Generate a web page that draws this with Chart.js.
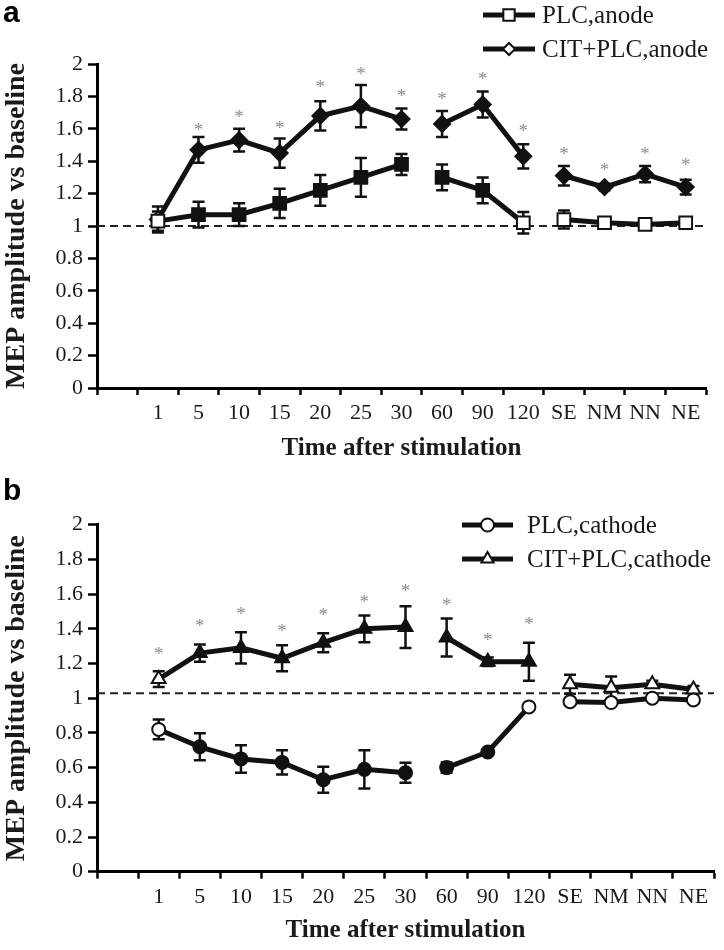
<!DOCTYPE html>
<html><head><meta charset="utf-8">
<script src="https://cdn.jsdelivr.net/npm/chart.js@4.4.1/dist/chart.umd.min.js"></script>
<style>
html,body{margin:0;padding:0;background:#fff;}
#wrap{position:relative;width:724px;height:950px;overflow:hidden;}
canvas{position:absolute;left:0;}
</style></head><body>
<div id="wrap">
<canvas id="ca" width="724" height="468" style="top:0"></canvas>
<canvas id="cb" width="724" height="480" style="top:470px"></canvas>
</div>
<script>
// ---------- DATA ----------
const categories = ['', '1', '5', '10', '15', '20', '25', '30', '60', '90', '120', 'SE', 'NM', 'NN', 'NE'];
const yTickValues = [0, 0.2, 0.4, 0.6, 0.8, 1, 1.2, 1.4, 1.6, 1.8, 2];

// Panel a (anode)
const plcAnode      = [null, 1.03, 1.07, 1.07, 1.14, 1.22, 1.30, 1.38, 1.30, 1.22, 1.02, 1.04, 1.02, 1.01, 1.02];
const plcAnodeErr   = [null, 0.06, 0.08, 0.07, 0.09, 0.095, 0.12, 0.065, 0.08, 0.08, 0.067, 0.055, 0.015, 0.02, 0.01];
const citAnode      = [null, 1.04, 1.47, 1.53, 1.45, 1.68, 1.74, 1.66, 1.63, 1.75, 1.43, 1.31, 1.24, 1.32, 1.24];
const citAnodeErr   = [null, 0.08, 0.08, 0.07, 0.09, 0.09, 0.13, 0.065, 0.08, 0.08, 0.075, 0.06, 0.02, 0.05, 0.045];
const starsAnode    = [null, null, 1.62, 1.70, 1.63, 1.88, 1.96, 1.83, 1.81, 1.93, 1.61, 1.47, 1.37, 1.47, 1.40];
const baselineAnode = 1.0;

// Panel b (cathode)
const plcCathode      = [null, 0.82, 0.72, 0.65, 0.63, 0.53, 0.59, 0.57, 0.60, 0.69, 0.95, 0.98, 0.975, 1.00, 0.99];
const plcCathodeErr   = [null, 0.057, 0.078, 0.079, 0.07, 0.075, 0.11, 0.058, 0.03, 0.015, 0, 0.01, 0.01, 0.01, 0.01];
const citCathode      = [null, 1.11, 1.26, 1.29, 1.23, 1.32, 1.40, 1.41, 1.35, 1.21, 1.21, 1.08, 1.06, 1.08, 1.05];
const citCathodeErr   = [null, 0.045, 0.05, 0.09, 0.075, 0.055, 0.077, 0.12, 0.11, 0.025, 0.11, 0.055, 0.065, 0.02, 0.02];
const starsCathode    = [null, 1.28, 1.44, 1.51, 1.41, 1.50, 1.58, 1.64, 1.56, 1.36, 1.45, null, null, null, null];
const baselineCathode = 1.028;

// indices after which the line is interrupted (30|60 and 120|SE)
const lineBreaks = [7, 10];

// ---------- STYLE ----------
const SERIF = '"Liberation Serif", "Times New Roman", serif';
const SANS = '"Liberation Sans", Arial, sans-serif';
const INK = '#111';
const TXT = '#1a1a1a';

function fills(n, openIdx) {
  const a = [];
  for (let i = 0; i < n; i++) a.push(openIdx.includes(i) ? '#fff' : INK);
  return a;
}

function makeDataset(label, data, err, style, radius, openIdx) {
  return {
    label, data, err,
    borderColor: INK, borderWidth: 5, tension: 0,
    pointStyle: style, pointRadius: radius,
    pointBorderColor: INK, pointBorderWidth: 2,
    pointBackgroundColor: fills(data.length, openIdx),
    segment: { borderColor: c => lineBreaks.includes(c.p0DataIndex) ? 'rgba(0,0,0,0)' : INK }
  };
}

const panelPlugin = {
  id: 'panelExtras',
  beforeDatasetsDraw(chart) {
    const cfg = chart.options.plugins.panelExtras;
    const ctx = chart.ctx, y = chart.scales.y, area = chart.chartArea;
    // baseline dashed line
    ctx.save();
    ctx.strokeStyle = '#222'; ctx.lineWidth = 2; ctx.setLineDash([8, 5]);
    const by = y.getPixelForValue(cfg.baseline);
    ctx.beginPath(); ctx.moveTo(area.left, by); ctx.lineTo(area.right, by); ctx.stroke();
    ctx.restore();
    // error bars
    ctx.save();
    ctx.strokeStyle = INK; ctx.lineWidth = 2.5;
    chart.data.datasets.forEach((ds, i) => {
      const meta = chart.getDatasetMeta(i);
      ds.data.forEach((v, j) => {
        const e = ds.err[j];
        if (v == null || !e) return;
        const x = meta.data[j].x;
        const t = y.getPixelForValue(v + e), b = y.getPixelForValue(v - e);
        ctx.beginPath();
        ctx.moveTo(x, t); ctx.lineTo(x, b);
        ctx.moveTo(x - 6, t); ctx.lineTo(x + 6, t);
        ctx.moveTo(x - 6, b); ctx.lineTo(x + 6, b);
        ctx.stroke();
      });
    });
    ctx.restore();
  },
  afterDraw(chart) {
    const cfg = chart.options.plugins.panelExtras;
    const ctx = chart.ctx, y = chart.scales.y, x = chart.scales.x;
    // significance asterisks
    ctx.save();
    ctx.fillStyle = '#8c8c8c'; ctx.font = '19px ' + SERIF;
    ctx.textAlign = 'center'; ctx.textBaseline = 'middle';
    cfg.stars.forEach((v, j) => {
      if (v == null) return;
      ctx.fillText('*', x.getPixelForValue(j), y.getPixelForValue(v) + 5);
    });
    ctx.restore();
    // legend
    ctx.save();
    const L = cfg.legend;
    chart.data.datasets.forEach((ds, i) => {
      const ly = L.ys[i];
      ctx.strokeStyle = INK; ctx.lineWidth = 5;
      ctx.beginPath(); ctx.moveTo(L.x1, ly); ctx.lineTo(L.x2, ly); ctx.stroke();
      ctx.fillStyle = '#fff'; ctx.strokeStyle = INK; ctx.lineWidth = 2;
      Chart.helpers.drawPoint(ctx, { pointStyle: ds.pointStyle, radius: L.radii[i], borderWidth: 2, rotation: 0 }, (L.x1 + L.x2) / 2, ly);
      ctx.fillStyle = TXT; ctx.font = '25px ' + SERIF;
      ctx.textAlign = 'left'; ctx.textBaseline = 'middle';
      ctx.fillText(ds.label, L.tx, ly + 1);
    });
    // panel letter
    ctx.fillStyle = '#000'; ctx.font = 'bold 30px ' + SANS;
    ctx.textAlign = 'left'; ctx.textBaseline = 'alphabetic';
    ctx.fillText(cfg.letter, 3, cfg.letterY);
    ctx.restore();
  }
};

function makeOptions(extras, padTop, padRight, xHeight) {
  return {
    responsive: false, animation: false, devicePixelRatio: 1,
    layout: { padding: { top: padTop, right: padRight, left: 0, bottom: 0 } },
    plugins: { legend: { display: false }, tooltip: { enabled: false }, panelExtras: extras },
    scales: {
      x: {
        type: 'category', offset: true,
        grid: { offset: true, drawOnChartArea: false, drawTicks: true, tickLength: 7, tickWidth: 2.5, tickColor: '#000' },
        border: { display: true, color: '#000', width: 3 },
        ticks: { color: TXT, font: { family: SERIF, size: 22 }, padding: 5, autoSkip: false, maxRotation: 0 },
        title: { display: true, text: 'Time after stimulation', color: TXT,
                 font: { family: SERIF, size: 25, weight: 'bold' }, padding: { top: 0, bottom: 4 } },
        afterFit(s) { s.height = xHeight; }
      },
      y: {
        min: 0, max: 2,
        afterBuildTicks(s) { s.ticks = yTickValues.map(v => ({ value: v })); },
        grid: { drawOnChartArea: false, drawTicks: true, tickLength: 9, tickWidth: 2.5, tickColor: '#000' },
        border: { display: true, color: '#000', width: 3 },
        ticks: { color: TXT, font: { family: SERIF, size: 22 }, padding: 5, callback: v => String(v) },
        title: { display: true, text: 'MEP amplitude vs baseline', color: TXT,
                 font: { family: SERIF, size: 28, weight: 'bold' }, padding: { top: 0, bottom: 0 } },
        afterFit(s) { s.width = 97; }
      }
    }
  };
}

new Chart(document.getElementById('ca'), {
  type: 'line',
  data: {
    labels: categories,
    datasets: [
      makeDataset('PLC,anode', plcAnode, plcAnodeErr, 'rect', 9, [1, 10, 11, 12, 13, 14]),
      makeDataset('CIT+PLC,anode', citAnode, citAnodeErr, 'rectRot', 8, [1])
    ]
  },
  options: makeOptions({
    baseline: baselineAnode, stars: starsAnode, letter: 'a', letterY: 22,
    legend: { x1: 483, x2: 535, tx: 542, ys: [15, 49], radii: [8, 6] }
  }, 64, 18, 80),
  plugins: [panelPlugin]
});

new Chart(document.getElementById('cb'), {
  type: 'line',
  data: {
    labels: categories,
    datasets: [
      makeDataset('PLC,cathode', plcCathode, plcCathodeErr, 'circle', 6.5, [1, 10, 11, 12, 13, 14]),
      makeDataset('CIT+PLC,cathode', citCathode, citCathodeErr, 'triangle', 8, [1, 11, 12, 13, 14])
    ]
  },
  options: makeOptions({
    baseline: baselineCathode, stars: starsCathode, letter: 'b', letterY: 30,
    legend: { x1: 462, x2: 513, tx: 527, ys: [55, 89], radii: [6.5, 7] }
  }, 54.7, 2, 78.3),
  plugins: [panelPlugin]
});
</script>
</body></html>
